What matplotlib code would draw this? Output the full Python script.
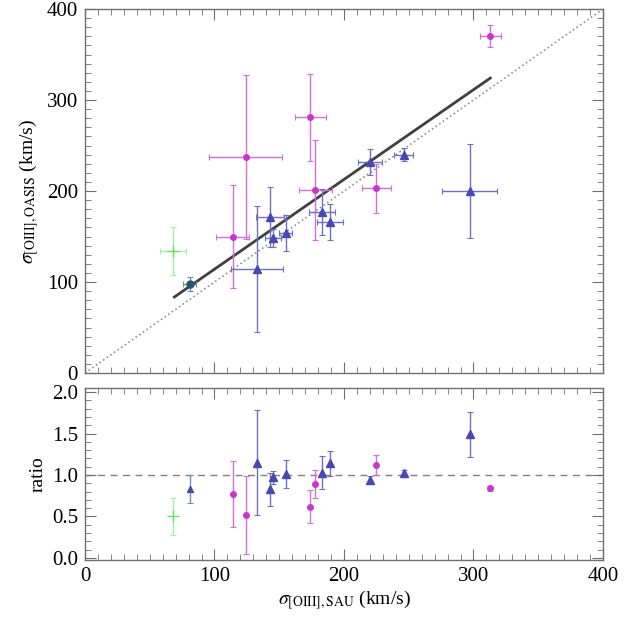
import matplotlib
matplotlib.use("Agg")
import matplotlib.pyplot as plt
from matplotlib.ticker import MultipleLocator

plt.rcParams['font.family'] = ['Liberation Serif', 'DejaVu Serif']
plt.rcParams['mathtext.fontset'] = 'stix'

# sigma from SAURON (x) and OASIS (y), km/s, with errors
groups = ['green', 'teal', 'pink', 'blue']

x_green = [68]
xe_green = [10]
y_green = [134]
ye_green = [26]
r_green = [0.50]
re_green = [0.22]

x_teal = [81]
xe_teal = [5]
y_teal = [98]
ye_teal = [8]
r_teal = [0.83]
re_teal = [0.17]

x_pink = [114, 124, 174, 178, 225, 313]
xe_pink = [13, 28, 12, 13, 11, 8]
y_pink = [150, 237, 281, 201, 203, 370]
ye_pink = [57, 90, 48, 55, 27, 12]
r_pink = [0.77, 0.52, 0.62, 0.89, 1.12, 0.84]
re_pink = [0.40, 0.47, 0.20, 0.17, 0.12, 0.03]

x_blue = [133, 143, 145, 155, 183, 189, 220, 246, 297]
xe_blue = [20, 11, 6, 5, 10, 10, 9, 7, 21]
y_blue = [114, 171, 148, 154, 177, 166, 232, 240, 200]
ye_blue = [69, 33, 10, 20, 25, 20, 14, 7, 52]
r_blue = [1.15, 0.83, 0.97, 1.01, 1.03, 1.14, 0.94, 1.02, 1.49]
re_blue = [0.63, 0.20, 0.08, 0.17, 0.20, 0.15, 0.05, 0.04, 0.27]

# linear fit y = a + b x
fit_a = 15.5
fit_b = 0.986
fit_x = [69, 313]
one_to_one = [0, 400]

styles = {
    'green': dict(marker='+', color='#6fdc6f', rcolor='#6fdc6f', ecolor='#a8eca8', ms=9),
    'teal': dict(marker='o', color='#1f5a60', rcolor='#4848b0', ecolor='#7a8ab0', ms=5),
    'pink': dict(marker='o', color='#c838c8', rcolor='#c838c8', ecolor='#d070d8', ms=4),
    'blue': dict(marker='^', color='#4848b0', rcolor='#4848b0', ecolor='#7070c0', ms=5.5),
}
data = {
    'green': (x_green, xe_green, y_green, ye_green, r_green, re_green),
    'teal': (x_teal, xe_teal, y_teal, ye_teal, r_teal, re_teal),
    'pink': (x_pink, xe_pink, y_pink, ye_pink, r_pink, re_pink),
    'blue': (x_blue, xe_blue, y_blue, ye_blue, r_blue, re_blue),
}

fig = plt.figure(figsize=(6.38, 6.18), dpi=100)
ax1 = fig.add_axes([0.1332, 0.3964, 0.8119, 0.5890])
ax2 = fig.add_axes([0.1332, 0.0939, 0.8119, 0.2783])

ax1.plot(one_to_one, one_to_one, ls=':', color='#909090', lw=1.2, zorder=1)
ax1.plot(fit_x, [fit_a + fit_b * v for v in fit_x], color='#404040', lw=2.0, zorder=2)
ax2.axhline(1.0, ls='--', color='#808080', lw=1.0, dashes=(5, 4), zorder=1)

for g in groups:
    x, xe, y, ye, r, re = data[g]
    st = styles[g]
    ax1.errorbar(x, y, xerr=xe, yerr=ye, fmt=st['marker'], color=st['color'],
                 ecolor=st['ecolor'], ms=st['ms'], elinewidth=1.0, capsize=2.5,
                 capthick=0.8, zorder=3)
    rmarker = '^' if g == 'teal' else st['marker']
    ax2.errorbar(x, r, yerr=re, fmt=rmarker, color=st['rcolor'],
                 ecolor=st['ecolor'], ms=st['ms'], elinewidth=1.0, capsize=2.5,
                 capthick=0.8, zorder=3)

ax1.set_xlim(0, 400)
ax1.set_ylim(0, 400)
ax2.set_xlim(0, 400)
ax2.set_ylim(-0.025, 2.05)

for ax in (ax1, ax2):
    ax.xaxis.set_major_locator(MultipleLocator(100))
    ax.xaxis.set_minor_locator(MultipleLocator(10))
    ax.tick_params(which='both', direction='in', top=True, right=True,
                   color='#707070', labelsize=15, pad=5)
    ax.tick_params(which='major', length=8)
    ax.tick_params(which='minor', length=4)
    for s in ax.spines.values():
        s.set_color('#707070')
        s.set_linewidth(1.0)

ax1.yaxis.set_major_locator(MultipleLocator(100))
ax1.yaxis.set_minor_locator(MultipleLocator(10))
ax1.tick_params(labelbottom=False)
ax2.yaxis.set_major_locator(MultipleLocator(0.5))
ax2.yaxis.set_minor_locator(MultipleLocator(0.1))
ax2.set_yticks([0.0, 0.5, 1.0, 1.5, 2.0])
ax2.set_yticklabels(['0.0', '0.5', '1.0', '1.5', '2.0'])

ax1.set_ylabel(r'$\sigma_{\mathrm{[OIII],OASIS}}$ (km/s)', fontsize=14, labelpad=4)
ax2.set_ylabel('ratio', fontsize=14, labelpad=4)
ax2.set_xlabel(r'$\sigma_{\mathrm{[OIII],SAU}}$ (km/s)', fontsize=14, labelpad=2)

fig.savefig('out.png', dpi=100)
